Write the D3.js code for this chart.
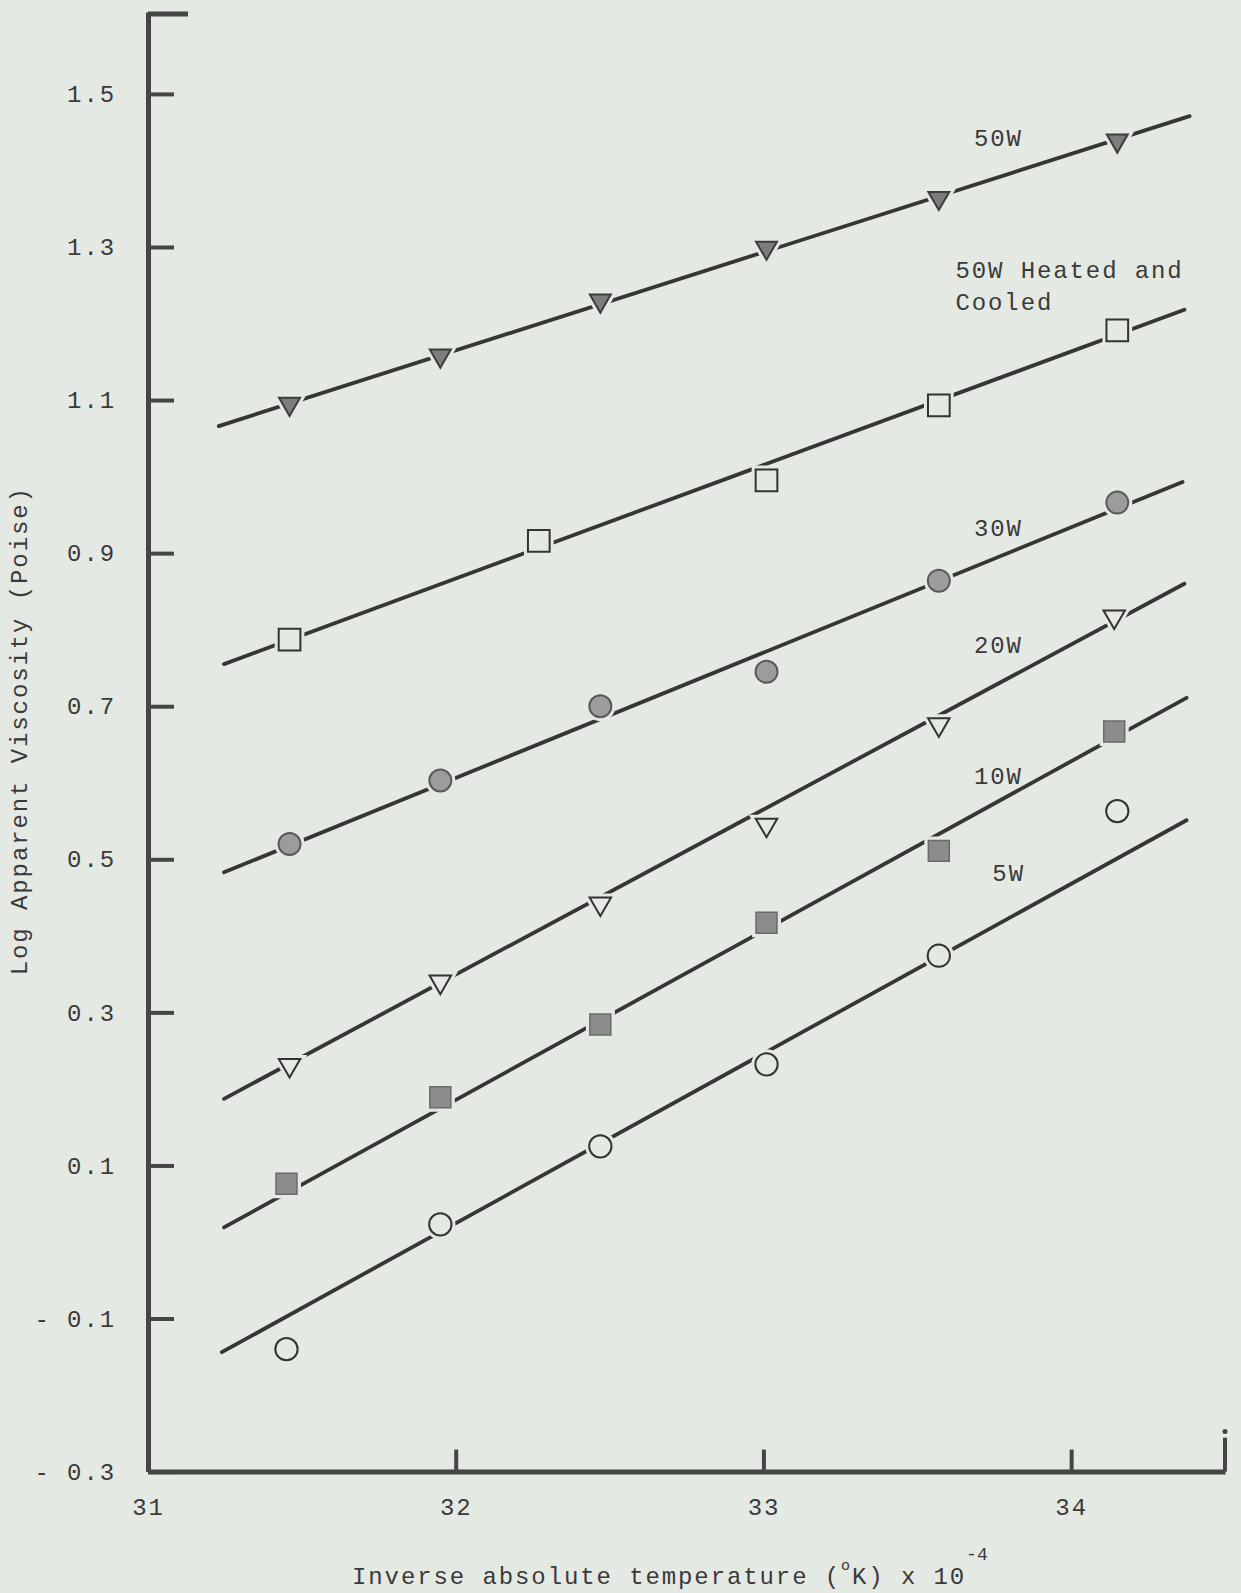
<!DOCTYPE html>
<html>
<head>
<meta charset="utf-8">
<script src="https://cdn.jsdelivr.net/npm/d3@7"></script>
<style>
  html, body { margin: 0; padding: 0; background: #e5e9e3; }
  svg { display: block; }
  text { font-family: "Liberation Mono", "DejaVu Sans Mono", monospace; fill: #3a3a3a; }
</style>
</head>
<body>
<svg id="chart" width="1241" height="1593"></svg>
<script>
// ---------- data ----------
const xTicks = [31, 32, 33, 34];
const yTicks = [-0.3, -0.1, 0.1, 0.3, 0.5, 0.7, 0.9, 1.1, 1.3, 1.5];
const yTickLabels = ["- 0.3", "- 0.1", "0.1", "0.3", "0.5", "0.7", "0.9", "1.1", "1.3", "1.5"];

const seriesNames = ["50W", "50W Heated and Cooled", "30W", "20W", "10W", "5W"];
const seriesMarkers = ["triangleFilled", "squareOpen", "circleFilled", "triangleOpen", "squareFilled", "circleOpen"];

const x50W   = [31.46, 31.95, 32.47, 33.01, 33.57, 34.15];
const y50W   = [1.095, 1.158, 1.230, 1.299, 1.364, 1.439];
const x50WHC = [31.46, 32.27, 33.01, 33.57, 34.15];
const y50WHC = [0.787, 0.916, 0.995, 1.093, 1.191];
const x30W   = [31.46, 31.95, 32.47, 33.01, 33.57, 34.15];
const y30W   = [0.520, 0.603, 0.700, 0.745, 0.864, 0.966];
const x20W   = [31.46, 31.95, 32.47, 33.01, 33.57, 34.14];
const y20W   = [0.231, 0.340, 0.442, 0.545, 0.676, 0.817];
const x10W   = [31.45, 31.95, 32.47, 33.01, 33.57, 34.14];
const y10W   = [0.076, 0.189, 0.284, 0.417, 0.511, 0.667];
const x5W    = [31.45, 31.95, 32.47, 33.01, 33.57, 34.15];
const y5W    = [-0.140, 0.023, 0.125, 0.232, 0.374, 0.563];

// fitted straight lines: [xStart, yStart, xEnd, yEnd]
const line50W   = [31.23, 1.066, 34.385, 1.471];
const line50WHC = [31.247, 0.755, 34.368, 1.218];
const line30W   = [31.247, 0.483, 34.362, 0.993];
const line20W   = [31.247, 0.187, 34.368, 0.860];
const line10W   = [31.247, 0.019, 34.375, 0.711];
const line5W    = [31.24, -0.144, 34.375, 0.551];

// series label texts with their anchor positions in data units
const labelLines = [["50W"], ["50W Heated and", "Cooled"], ["30W"], ["20W"], ["10W"], ["5W"]];
const labelX = [33.684, 33.624, 33.684, 33.684, 33.684, 33.744];
const labelY = [1.432, 1.259, 0.922, 0.769, 0.598, 0.472];

const xTitle = "Inverse absolute temperature (";
const yTitle = "Log Apparent Viscosity (Poise)";

// ---------- layout ----------
const svg = d3.select("#chart");
const bg = "#e5e9e3";
const ink = "#363636";
const FS = 24, LS = 1.9;

const x = d3.scaleLinear().domain([31, 34.5]).range([148, 1225]);
const y = d3.scaleLinear().domain([-0.3, 1.607]).range([1471.6, 12]);

svg.append("rect").attr("width", 1241).attr("height", 1593).attr("fill", bg);

const xsArr = [x50W, x50WHC, x30W, x20W, x10W, x5W];
const ysArr = [y50W, y50WHC, y30W, y20W, y10W, y5W];
const linesArr = [line50W, line50WHC, line30W, line20W, line10W, line5W];

// fitted lines
const lineGen = d3.line().x(d => x(d[0])).y(d => y(d[1]));
linesArr.forEach(l => {
  svg.append("path")
    .attr("d", lineGen([[l[0], l[1]], [l[2], l[3]]]))
    .attr("fill", "none")
    .attr("stroke", ink)
    .attr("stroke-width", 3.8)
    .attr("stroke-linecap", "round");
});

// markers
const sym = {
  triangleFilled: d3.symbol().type(d3.symbolTriangle).size(190),
  triangleOpen: d3.symbol().type(d3.symbolTriangle).size(200),
  squareOpen: d3.symbol().type(d3.symbolSquare).size(470),
  squareFilled: d3.symbol().type(d3.symbolSquare).size(440),
  circleFilled: d3.symbol().type(d3.symbolCircle).size(380),
  circleOpen: d3.symbol().type(d3.symbolCircle).size(390)
};
const style = {
  triangleFilled: { fill: "#7d7d7d", stroke: "#3d3d3d", sw: 2 },
  triangleOpen:   { fill: bg,        stroke: "#333",    sw: 2 },
  squareOpen:     { fill: bg,        stroke: "#333",    sw: 2 },
  squareFilled:   { fill: "#8c8c8c", stroke: "#6a6a6a", sw: 1.5 },
  circleFilled:   { fill: "#9c9c9c", stroke: "#5a5a5a", sw: 2 },
  circleOpen:     { fill: bg,        stroke: "#333",    sw: 2 }
};

xsArr.forEach((xs, i) => {
  const m = seriesMarkers[i];
  const pts = xs.map((v, j) => [v, ysArr[i][j]]);
  const rot = m.startsWith("triangle") ? 180 : 0;
  const g = svg.append("g");
  // halo that breaks the line around each marker
  g.selectAll("path.halo").data(pts).join("path")
    .attr("class", "halo")
    .attr("d", sym[m]())
    .attr("transform", d => `translate(${x(d[0])},${y(d[1])}) rotate(${rot})`)
    .attr("fill", bg).attr("stroke", bg).attr("stroke-width", 8);
  g.selectAll("path.mk").data(pts).join("path")
    .attr("class", "mk")
    .attr("d", sym[m]())
    .attr("transform", d => `translate(${x(d[0])},${y(d[1])}) rotate(${rot})`)
    .attr("fill", style[m].fill)
    .attr("stroke", style[m].stroke)
    .attr("stroke-width", style[m].sw);
});

// series labels
labelLines.forEach((lines, i) => {
  const t = svg.append("text")
    .attr("x", x(labelX[i]))
    .attr("y", y(labelY[i]))
    .attr("font-size", FS)
    .attr("letter-spacing", LS);
  lines.forEach((s, k) => {
    t.append("tspan").attr("x", x(labelX[i])).attr("dy", k === 0 ? 0 : 31.5).text(s);
  });
});

// ---------- axes ----------
const axisInk = "#454545";
const yAxis = d3.axisLeft(y).tickValues(yTicks)
  .tickFormat((d, i) => yTickLabels[i])
  .tickSize(-26).tickSizeOuter(0).tickPadding(32);
const gy = svg.append("g").attr("transform", `translate(${x(31)},0)`).call(yAxis);
gy.select(".domain").attr("stroke", axisInk).attr("stroke-width", 5);
gy.selectAll(".tick line").attr("stroke", axisInk).attr("stroke-width", 4);
gy.selectAll(".tick text").attr("font-size", FS).attr("letter-spacing", LS)
  .attr("fill", "#3a3a3a").attr("font-family", "Liberation Mono");

const xAxis = d3.axisBottom(x).tickValues(xTicks)
  .tickFormat(d3.format("d"))
  .tickSize(-22).tickSizeOuter(0).tickPadding(26);
const gx = svg.append("g").attr("transform", `translate(0,${y(-0.3)})`).call(xAxis);
gx.select(".domain").attr("stroke", axisInk).attr("stroke-width", 5);
gx.selectAll(".tick line").attr("stroke", axisInk).attr("stroke-width", 4);
gx.selectAll(".tick").filter(d => d === 31).select("line").remove();
gx.selectAll(".tick text").attr("font-size", FS).attr("letter-spacing", LS)
  .attr("fill", "#3a3a3a").attr("font-family", "Liberation Mono");

// axis end caps
svg.append("line")
  .attr("x1", x(31)).attr("x2", x(31.13)).attr("y1", y(1.607) + 2).attr("y2", y(1.607) + 2)
  .attr("stroke", axisInk).attr("stroke-width", 5);
svg.append("line")
  .attr("x1", x(34.5)).attr("x2", x(34.5)).attr("y1", y(-0.3)).attr("y2", y(-0.3) - 34)
  .attr("stroke", axisInk).attr("stroke-width", 4);
svg.append("circle")
  .attr("cx", x(34.5)).attr("cy", y(-0.3) - 40).attr("r", 2.5).attr("fill", axisInk);

// axis titles
const xt = svg.append("text")
  .attr("x", 352).attr("y", 1584)
  .attr("font-size", FS).attr("letter-spacing", LS);
xt.append("tspan").text(xTitle);
xt.append("tspan").attr("font-size", 15).attr("dy", -14).text("o");
xt.append("tspan").attr("dy", 14).text("K) x 10");
xt.append("tspan").attr("font-size", 18).attr("dy", -24).attr("letter-spacing", 0).text("-4");

svg.append("text")
  .attr("transform", `translate(27, ${y(0.668)}) rotate(-90)`)
  .attr("text-anchor", "middle")
  .attr("font-size", FS).attr("letter-spacing", LS)
  .text(yTitle);
</script>
</body>
</html>
